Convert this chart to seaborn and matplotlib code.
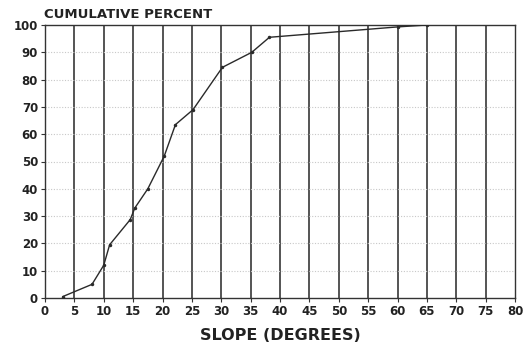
import matplotlib
matplotlib.use("Agg")
import matplotlib.pyplot as plt
import seaborn as sns
import pandas as pd

slope = [3, 8, 10, 11, 14.5, 15.3, 17.5, 20.3, 22.2, 25.2, 30.2, 35.2, 38.2, 60, 65]
cum_percent = [0.5, 5, 12, 19.5, 28.7, 33, 40, 52, 63.5, 69, 84.5, 90, 95.5, 99.3, 100]
x_ticks = list(range(0, 81, 5))
y_ticks = list(range(0, 101, 10))

df = pd.DataFrame({"slope": slope, "pct": cum_percent})

sns.set_theme(style="white")
plt.rcParams["font.family"] = ["DejaVu Sans"]

fig = plt.figure(figsize=(5.30, 3.49), dpi=100)
ax = fig.add_axes([45/530, 51/349, 470/530, 273/349])

# grid
for x in x_ticks[1:-1]:
    ax.axvline(x, color="#262626", lw=1.1, zorder=1)
for y in y_ticks[1:-1]:
    ax.axhline(y, color="#c8c8c8", lw=0.8, ls=(0, (1, 1.5)), zorder=1)

sns.lineplot(data=df, x="slope", y="pct", ax=ax, color="#2a2a2a", lw=1.0,
             marker="o", markersize=2.5, markeredgewidth=0, zorder=3)

ax.set_xlim(0, 80)
ax.set_ylim(0, 100)
ax.set_xticks(x_ticks)
ax.set_yticks(y_ticks)
ax.set_xticklabels([str(v) for v in x_ticks], fontsize=8.5, fontweight="bold", color="#222222")
ax.set_yticklabels([str(v) for v in y_ticks], fontsize=8.5, fontweight="bold", color="#222222")
ax.tick_params(axis="both", length=3, width=0.8, color="#333333", pad=2, direction="out",
               bottom=True, left=True)
for s in ax.spines.values():
    s.set_color("#333333")
    s.set_linewidth(1.0)
    s.set_visible(True)

ax.set_xlabel("SLOPE (DEGREES)", fontsize=11.5, fontweight="bold", color="#222222", labelpad=7)
ax.set_ylabel("")
fig.text(44/530, 1 - 14/349, "CUMULATIVE PERCENT", fontsize=9.5, fontweight="bold",
         color="#222222", ha="left", va="center")

fig.savefig("out.png", dpi=100, facecolor="white")
